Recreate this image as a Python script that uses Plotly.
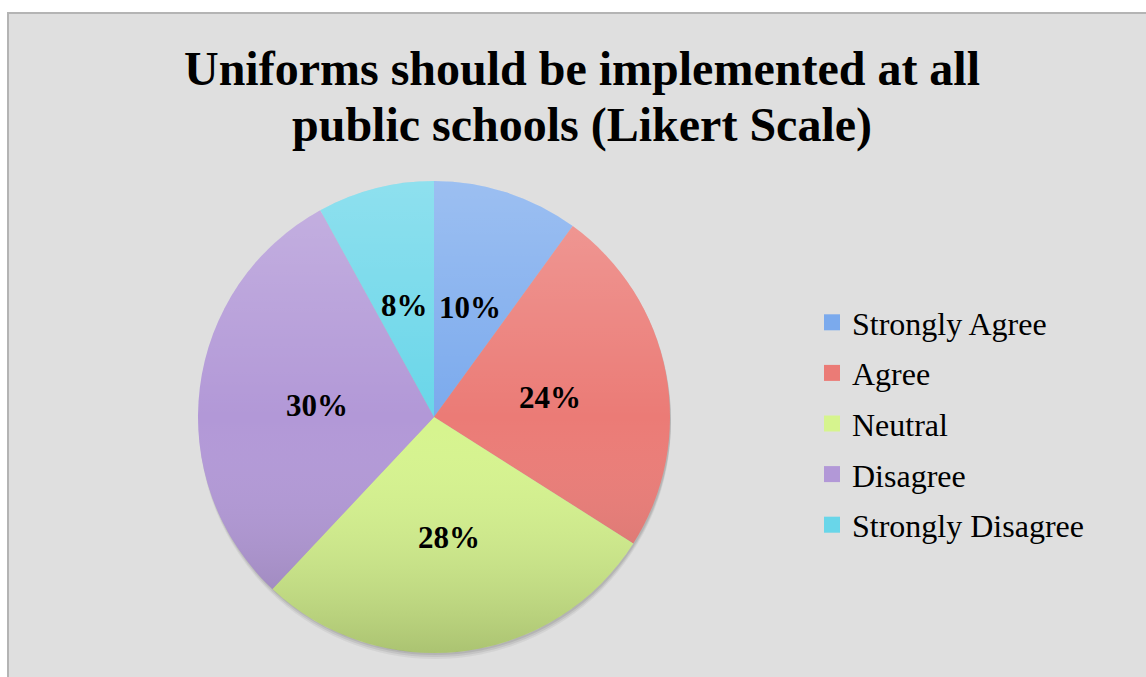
import base64
import math
import plotly.graph_objects as go

W, H = 1146, 677

# Survey responses (percent of respondents)
categories = ["Strongly Agree", "Agree", "Neutral", "Disagree", "Strongly Disagree"]
percentages = [10, 24, 28, 30, 8]
colors = ["#7baaed", "#eb7b76", "#d6f48e", "#b298d7", "#69d6e9"]

title_lines = ["Uniforms should be implemented at all", "public schools (Likert Scale)"]

SERIF = "Liberation Serif, Times New Roman, serif"

# pie placement in pixels
cx, cy, r = 434, 417, 236
px = lambda x: x / W
py = lambda y: 1 - y / H

fig = go.Figure()

fig.add_trace(go.Pie(
    labels=categories,
    values=percentages,
    sort=False,
    direction="clockwise",
    rotation=0,
    marker=dict(colors=colors, line=dict(width=0)),
    textinfo="none",
    domain=dict(x=[px(cx - r), px(cx + r)], y=[py(cy + r), py(cy - r)]),
    showlegend=False,
    hoverinfo="label+percent",
))

# legend entries, one group per category for even spacing
for name, col in zip(categories, colors):
    fig.add_trace(go.Scatter(
        x=[None], y=[None], mode="markers", name=name,
        legendgroup=name,
        marker=dict(symbol="square", size=16, color=col),
        showlegend=True,
    ))

# percentage labels at half radius along each slice's middle angle
annotations = []
total = sum(percentages)
cum = 0
for v in percentages:
    mid = math.radians((cum + v / 2) / total * 360)
    cum += v
    lx = cx + 0.5 * r * math.sin(mid)
    ly = cy - 0.5 * r * math.cos(mid)
    annotations.append(dict(
        x=px(lx), y=py(ly), xref="paper", yref="paper",
        text=f"{round(v / total * 100)}%", showarrow=False,
        xanchor="center", yanchor="middle", yshift=-3,
        font=dict(family=SERIF, size=31, color="black", weight="bold"),
    ))

# two-line title
for line, ty in zip(title_lines, [68, 125]):
    annotations.append(dict(
        x=px(582), y=py(ty), xref="paper", yref="paper",
        text=line, showarrow=False, xanchor="center", yanchor="middle",
        font=dict(family=SERIF, size=48, color="black", weight="bold"),
    ))

shapes = [
    # chart area with thin grey border
    dict(type="rect", xref="paper", yref="paper",
         x0=px(8), x1=1.02, y0=-0.02, y1=py(13),
         fillcolor="#dfdfdf", line=dict(color="#b4b4b4", width=2), layer="below"),
]
# soft shadow beneath the pie
for off, alpha in [(6, 0.05), (4, 0.07), (2, 0.08)]:
    shapes.append(dict(type="circle", xref="paper", yref="paper",
                       x0=px(cx - r + 1), x1=px(cx + r + 1),
                       y0=py(cy + r + off), y1=py(cy - r + off),
                       fillcolor=f"rgba(0,0,0,{alpha})", line=dict(width=0), layer="below"))

# vertical light-to-dark shading laid over the pie
shade_svg = (
    '<svg xmlns="http://www.w3.org/2000/svg" viewBox="0 0 100 100" preserveAspectRatio="none">'
    '<defs><linearGradient id="g" x1="0" y1="0" x2="0" y2="1">'
    '<stop offset="0" stop-color="#ffffff" stop-opacity="0.25"/>'
    '<stop offset="0.5" stop-color="#ffffff" stop-opacity="0"/>'
    '<stop offset="1" stop-color="#000000" stop-opacity="0.2"/>'
    '</linearGradient></defs>'
    '<circle cx="50" cy="50" r="50" fill="url(#g)"/></svg>'
)
shade_src = "data:image/svg+xml;base64," + base64.b64encode(shade_svg.encode()).decode()

fig.update_layout(
    width=W, height=H,
    margin=dict(l=0, r=0, t=0, b=0),
    paper_bgcolor="white",
    plot_bgcolor="rgba(0,0,0,0)",
    xaxis=dict(visible=False, domain=[0.9, 1]),
    yaxis=dict(visible=False, domain=[0.9, 1]),
    shapes=shapes,
    annotations=annotations,
    images=[dict(source=shade_src, xref="paper", yref="paper",
                 x=px(cx - r), y=py(cy - r), sizex=2 * r / W, sizey=2 * r / H,
                 xanchor="left", yanchor="top", sizing="stretch", layer="above")],
    legend=dict(x=px(812), xanchor="left", y=py(295), yanchor="top",
                bgcolor="rgba(0,0,0,0)", tracegroupgap=6,
                font=dict(family=SERIF, size=32, color="black")),
)

fig.write_html("out.html")
